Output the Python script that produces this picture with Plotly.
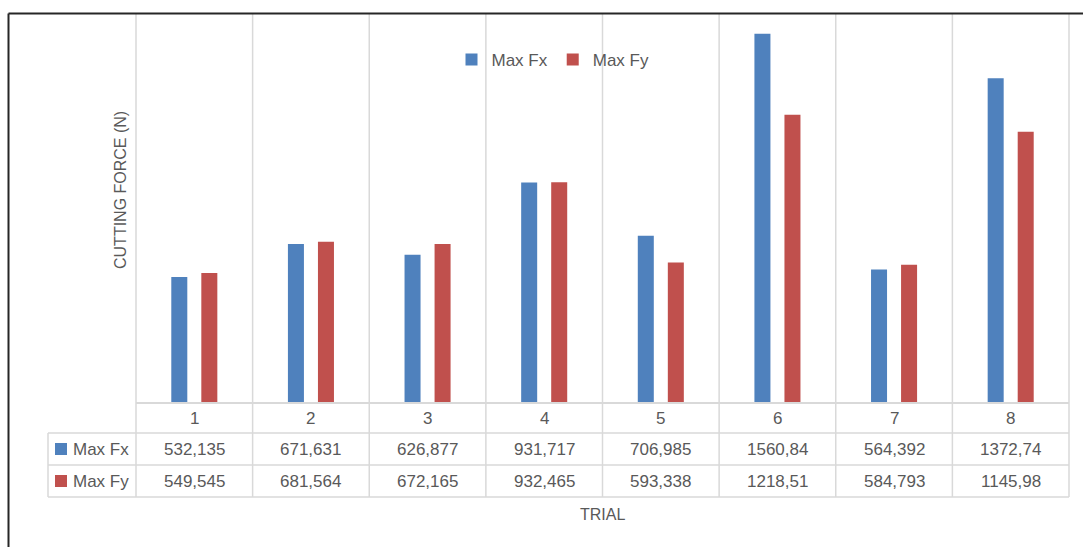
import plotly.graph_objects as go

categories = ["1", "2", "3", "4", "5", "6", "7", "8"]
max_fx = [532.135, 671.631, 626.877, 931.717, 706.985, 1560.84, 564.392, 1372.74]
max_fy = [549.545, 681.564, 672.165, 932.465, 593.338, 1218.51, 584.793, 1145.98]
series_names = ["Max Fx", "Max Fy"]
series_values = [max_fx, max_fy]
colors = ["#4f81bd", "#c0504d"]
x_title = "TRIAL"
y_title = "CUTTING FORCE (N)"

W, H = 1083, 547
L, R, T, B = 136, 1069, 14, 403
n = len(categories)

def px2x(px):
    return (px - L) / (R - L)

def px2y(py):
    return (B - py) / (B - T)

GRID = "#d9d9d9"
TXT = "#595959"
FONT = "Liberation Sans, Arial, sans-serif"

fig = go.Figure()
for name, vals, col in zip(series_names, series_values, colors):
    fig.add_trace(go.Bar(
        x=list(range(n)), y=vals, name=name,
        marker=dict(color=col, line=dict(width=0)),
    ))

shapes = []
# vertical gridlines at category boundaries, down through the table
for k in range(n + 1):
    xp = k / n
    shapes.append(dict(type="line", xref="paper", yref="paper",
                       x0=xp, x1=xp, y0=px2y(T), y1=px2y(497),
                       line=dict(color=GRID, width=1.5), layer="below"))
# baseline
shapes.append(dict(type="line", xref="paper", yref="paper",
                   x0=0, x1=1, y0=0, y1=0, line=dict(color=GRID, width=2)))
# table horizontal lines
for py in [433, 465, 497]:
    shapes.append(dict(type="line", xref="paper", yref="paper",
                       x0=px2x(48), x1=1, y0=px2y(py), y1=px2y(py),
                       line=dict(color=GRID, width=1.5)))
# table left edge
shapes.append(dict(type="line", xref="paper", yref="paper",
                   x0=px2x(48), x1=px2x(48), y0=px2y(433), y1=px2y(497),
                   line=dict(color=GRID, width=1.5)))
# chart frame (top and left)
shapes.append(dict(type="line", xref="paper", yref="paper",
                   x0=px2x(8.5), x1=px2x(1090), y0=px2y(13.5), y1=px2y(13.5),
                   line=dict(color="#262626", width=2)))
shapes.append(dict(type="line", xref="paper", yref="paper",
                   x0=px2x(8.5), x1=px2x(8.5), y0=px2y(13.5), y1=px2y(560),
                   line=dict(color="#262626", width=2)))

def label(x, xref, y, text, size=17, xanchor="center", angle=0):
    return dict(x=x, xref=xref, y=y, yref="paper", text=text, showarrow=False,
                xanchor=xanchor, yanchor="middle", textangle=angle,
                font=dict(family=FONT, size=size, color=TXT))

annotations = []
# header row category labels
for i, c in enumerate(categories):
    annotations.append(label(i, "x", px2y(418), c))
# data rows
row_y = [449, 481]
for r, (name, vals, col) in enumerate(zip(series_names, series_values, colors)):
    yp = row_y[r]
    shapes.append(dict(type="rect", xref="paper", yref="paper",
                       x0=px2x(55), x1=px2x(67), y0=px2y(yp - 6), y1=px2y(yp + 6),
                       fillcolor=col, line=dict(width=0)))
    annotations.append(label(px2x(71), "paper", px2y(yp), name, xanchor="left"))
    for i, v in enumerate(vals):
        annotations.append(label(i, "x", px2y(yp), str(v).replace(".", ",")))
# axis titles
annotations.append(label(px2x(602), "paper", px2y(514), x_title, size=16))
annotations.append(label(px2x(120), "paper", px2y(190), y_title, size=16, angle=-90))

fig.update_layout(
    width=W, height=H,
    margin=dict(l=L, r=W - R, t=T, b=H - B, pad=0),
    paper_bgcolor="white", plot_bgcolor="white",
    barmode="group", bargap=0.485, bargroupgap=0.467,
    xaxis=dict(range=[-0.5, n - 0.5], showticklabels=False, showgrid=False,
               zeroline=False, showline=False, ticks=""),
    yaxis=dict(range=[0, 1644], showticklabels=False, showgrid=False,
               zeroline=False, showline=False, ticks=""),
    legend=dict(orientation="h", x=px2x(553), xanchor="center",
                y=px2y(60), yanchor="middle", bgcolor="rgba(0,0,0,0)",
                font=dict(family=FONT, size=17, color=TXT),
                itemwidth=30, traceorder="normal"),
    shapes=shapes, annotations=annotations,
    font=dict(family=FONT, color=TXT),
)

fig.write_html("out.html")
